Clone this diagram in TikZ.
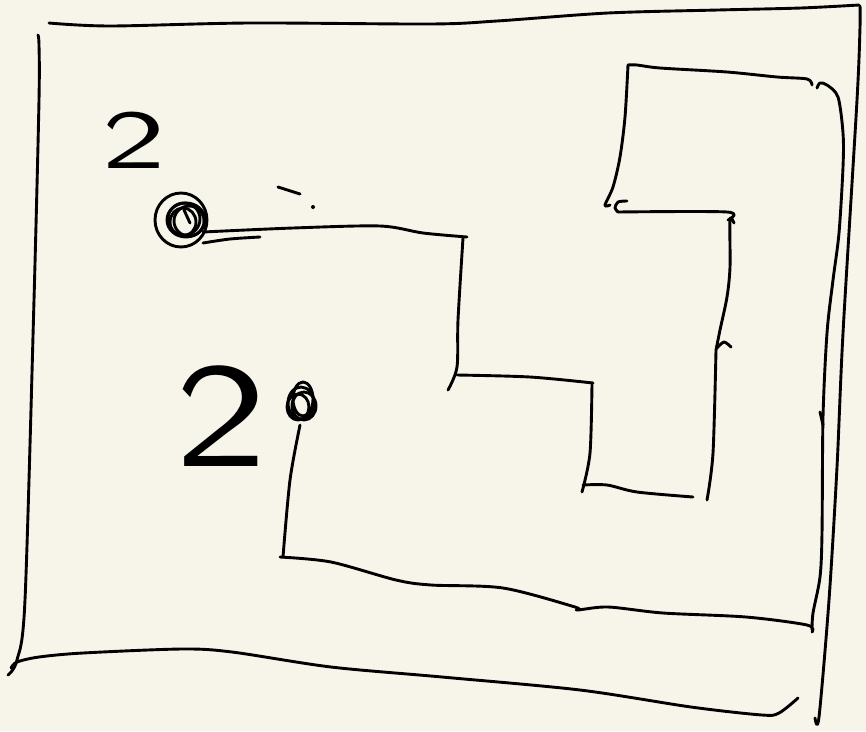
\documentclass[tikz,border=0pt]{standalone}
\usepackage{tikz}
\usetikzlibrary{calc}
\definecolor{paper}{HTML}{F7F5EA}

\begin{document}
\begin{tikzpicture}[x=1pt,y=-1pt,
  pen/.style={line width=2.9pt,line cap=round,line join=round},
  digit/.style={inner sep=0pt,font=\sffamily\fontsize{#1}{#1}\selectfont}]
\fill[paper] (0,0) rectangle (866,731);
\useasboundingbox (0,0) rectangle (866,731);
% outer frame
\draw[pen] plot[smooth] coordinates {(49,23) (110,26) (249,23) (431,24) (497,21) (608,13) (718,10) (801,8) (859,5)};
\draw[pen] plot[smooth] coordinates {(860,6) (860,27) (857,100) (843,333) (837,467) (829,600) (819,717) (815,718)};
\draw[pen] plot[smooth] coordinates {(38,35) (39,45) (39,100) (34,300) (25,600) (17,660) (8,675)};
\draw[pen] plot[smooth] coordinates {(11,668) (17,662) (39,657) (83,653) (182,649) (232,652) (331,667) (442,677) (580,690) (691,707) (762,715) (779,713) (798,698)};
% labels
\node[digit=84,xscale=1.6] (twoA) at (134,140) {2};
\node[digit=150,xscale=1.3] (twoB) at (221,416) {2};
% start marks
\foreach \dx/\dy/\rx/\ry in {0/0/26/27,5/0/19/17,3/-1/16/16,8/1/15/15,2/2/13/14}
  \draw[pen] ($(181,220)+(\dx,\dy)$) ellipse ({\rx} and {\ry});
\draw[pen] (184,210) -- (190,223);
\foreach \dx/\dy/\rx/\ry in {0/0/13/16,3/3/12/14,-3/4/11/13,2/-4/10/17}
  \draw[pen] ($(301,403)+(\dx,\dy)$) ellipse ({\rx} and {\ry});
% upper route
\draw[pen] plot[smooth] coordinates {(203,232) (293,228) (380,226) (423,233) (467,237)};
\draw[pen] plot[smooth] coordinates {(203,243) (230,239) (260,237)};
\draw[pen] (278,187) -- (300,194);
\fill (313,207) circle (2);
\draw[pen] plot[smooth] coordinates {(463,238) (458,320) (457,367) (448,390)};
\draw[pen] plot[smooth] coordinates {(457,375) (530,377) (593,383)};
\draw[pen] plot[smooth] coordinates {(592,383) (590,453) (582,492)};
\draw[pen] plot[smooth] coordinates {(583,485) (607,485) (637,492) (693,497)};
\draw[pen] plot[smooth] coordinates {(707,500) (713,453) (716,350)};
\draw[pen] plot[smooth] coordinates {(717,348) (724,342) (731,347)};
\draw[pen] plot[smooth] coordinates {(716,350) (720,330) (727,297) (730,267) (730,220) (734,223)};
\draw[pen] plot[smooth] coordinates {(618,212) (727,212) (728,220)};
\draw[pen] plot[smooth] coordinates {(627,201) (618,202) (615,208) (618,212)};
\draw[pen] plot[smooth] coordinates {(610,205) (605,205) (613,187) (620,157) (625,117) (628,65)};
\draw[pen] plot[smooth] coordinates {(628,65) (637,65) (660,68) (727,72) (777,77) (807,79) (812,85)};
\draw[pen] plot[smooth] coordinates {(817,88) (820,83) (827,85) (838,97) (843,133) (843,167) (839,233) (833,280) (827,333) (823,417) (822,533) (820,577) (813,613) (812,630)};
\draw[pen] (820,412) -- (823,425);
\draw[pen] plot[smooth] coordinates {(812,632) (807,625) (746,617) (663,613) (608,607) (577,610) (575,607) (503,588) (431,585) (396,580) (331,562) (280,557)};
% lower route
\draw[pen] plot[smooth] coordinates {(283,557) (290,480) (300,425)};
\end{tikzpicture}
\end{document}
